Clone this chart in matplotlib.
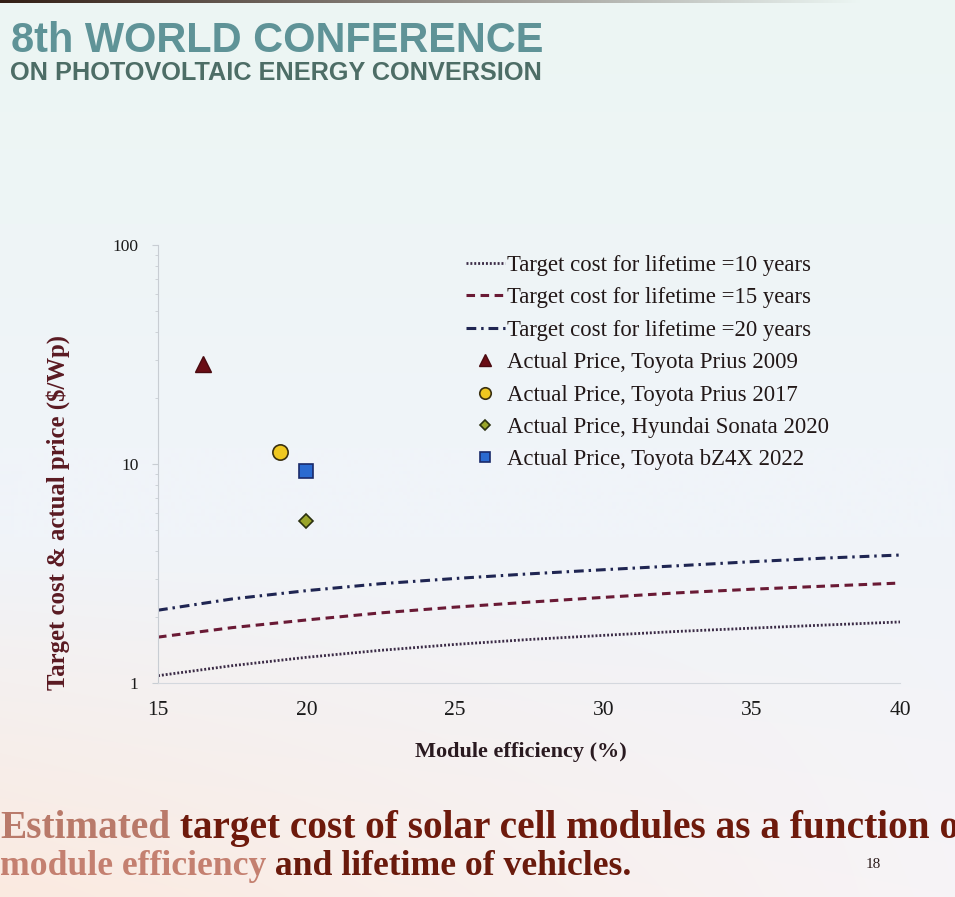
import numpy as np
import matplotlib
matplotlib.use("Agg")
import matplotlib.pyplot as plt

# module efficiency (%) for the target cost curves
eff = [15, 17.5, 20, 22.5, 25, 27.5, 30, 32.5, 35, 37.5, 40]
cost_10y = [1.08, 1.20, 1.31, 1.41, 1.50, 1.58, 1.65, 1.72, 1.78, 1.84, 1.90]
cost_15y = [1.62, 1.79, 1.94, 2.09, 2.22, 2.34, 2.46, 2.58, 2.68, 2.77, 2.86]
cost_20y = [2.15, 2.42, 2.64, 2.84, 3.00, 3.15, 3.29, 3.43, 3.58, 3.72, 3.84]

# actual prices (efficiency %, $/Wp)
prius09 = (16.5, 28.5)
prius17 = (19.1, 11.3)
sonata20 = (20.0, 5.5)
bz4x22 = (20.0, 9.3)

xticks = [15, 20, 25, 30, 35, 40]

W, H = 955, 897
fig = plt.figure(figsize=(W / 100, H / 100), dpi=100)

# slide background: light mint/blue at top, warm peach towards the bottom left
bg = fig.add_axes([0, 0, 1, 1], zorder=-10)
yy = np.linspace(0, 1, H)[:, None]
xx = np.linspace(0, 1, W)[None, :]
top = np.array([236, 246, 243]) / 255
mid = np.array([240, 244, 249]) / 255
bot_l = np.array([251, 234, 224]) / 255
bot_r = np.array([247, 244, 247]) / 255
t1 = np.clip(yy / 0.5, 0, 1)[..., None]
t2 = np.clip((yy - 0.6) / 0.4, 0, 1)[..., None]
bot = bot_l * (1 - xx[..., None]) + bot_r * xx[..., None]
img = top * (1 - t1) + mid * t1
img = img * (1 - t2) + bot * t2
fade = np.clip(xx[..., None] / 0.9, 0, 1)
img[:4, :, :] = img[:4, :, :] * fade + np.array([50, 30, 20]) / 255 * (1 - fade)
bg.imshow(img, aspect="auto", extent=[0, 1, 0, 1])
bg.axis("off")

# header
fig.text(11 / W, 1 - 52 / H, "8th WORLD CONFERENCE", family="Liberation Sans",
         weight="bold", fontsize=29.9, color="#5f9397")
fig.text(10 / W, 1 - 80 / H, "ON PHOTOVOLTAIC ENERGY CONVERSION", family="Liberation Sans",
         weight="bold", fontsize=18.2, color="#4d6d66")

ax = fig.add_axes([158 / W, 1 - 683 / H, 742 / W, 438 / H])
ax.set_facecolor("none")

ax.plot(eff, cost_10y, color="#3a2a45", lw=2.0, ls=(0, (0.7, 0.7)),
        label="Target cost for lifetime =10 years")
ax.plot(eff, cost_15y, color="#6a1a35", lw=2.2, ls=(0, (2.8, 1.8)),
        label="Target cost for lifetime =15 years")
ax.plot(eff, cost_20y, color="#1f2552", lw=2.2, ls=(0, (3.2, 1.6, 0.8, 1.6)),
        label="Target cost for lifetime =20 years")
ax.plot(*prius09, ls="none", marker="^", ms=11, mfc="#6a0d15", mec="#4a0a10",
        label="Actual Price, Toyota Prius 2009")
ax.plot(*prius17, ls="none", marker="o", ms=11, mfc="#f0c820", mec="#3a3010", mew=1.2,
        label="Actual Price, Toyota Prius 2017")
ax.plot(*sonata20, ls="none", marker="D", ms=7, mfc="#9aa52a", mec="#2a3010", mew=1.2,
        label="Actual Price, Hyundai Sonata 2020")
ax.plot(*bz4x22, ls="none", marker="s", ms=10, mfc="#2a6ad0", mec="#1a2a6a", mew=1.2,
        label="Actual Price, Toyota bZ4X 2022")

ax.set_yscale("log")
ax.set_ylim(1, 100)
ax.set_xlim(15, 40)
ax.set_xticks(xticks)
ax.set_yticks([1, 10, 100])
ax.set_yticklabels(["1", "10", "100"])
ax.tick_params(axis="x", length=0, pad=13, labelsize=15.5, labelcolor="#1a1a1a")
ax.tick_params(axis="y", which="major", length=4, color="#c8cdd3", pad=10,
               labelsize=12.5, labelcolor="#1a1a1a")
ax.tick_params(axis="y", which="minor", length=2.5, color="#c8cdd3")
for lab in ax.get_xticklabels() + ax.get_yticklabels():
    lab.set_family("Liberation Serif")
for s in ["top", "right"]:
    ax.spines[s].set_visible(False)
ax.spines["left"].set_color("#c8cdd3")
ax.spines["bottom"].set_color("#d4d8de")

ax.set_xlabel("Module efficiency (%)", family="Liberation Serif", weight="bold",
              fontsize=16, color="#2a1a20")
ax.xaxis.set_label_coords(0.489, -0.135)
ax.set_ylabel("Target cost & actual price ($/Wp)", family="Liberation Serif", weight="bold",
              fontsize=17.8, color="#5a1a22")
ax.yaxis.set_label_coords(-0.119, 0.39)

leg = ax.legend(loc="upper left", bbox_to_anchor=(466 / W, 1 - 255 / H),
                bbox_transform=fig.transFigure, frameon=False, borderpad=0,
                borderaxespad=0, handlelength=1.7, handletextpad=0.1,
                labelspacing=0.5, markerscale=0.75, numpoints=1,
                prop={"family": "Liberation Serif", "size": 16.4})
for t in leg.get_texts():
    t.set_color("#221818")

# caption
c1 = fig.text(0, 1 - 838 / H, "Estimated", family="Liberation Serif", weight="bold",
              fontsize=28.3, color="#b97a6a")
ax.annotate(" target cost of solar cell modules as a function of", xy=(1, 0),
            xycoords=c1, va="bottom", ha="left", family="Liberation Serif",
            weight="bold", fontsize=28.3, color="#6e1a0c", annotation_clip=False)
c2 = fig.text(0, 1 - 875 / H, "module efficiency", family="Liberation Serif", weight="bold",
              fontsize=25.7, color="#c48070")
ax.annotate(" and lifetime of vehicles.", xy=(1, 0), xycoords=c2, va="bottom",
            ha="left", family="Liberation Serif", weight="bold", fontsize=25.7,
            color="#6a1a0c", annotation_clip=False)
fig.text(866 / W, 1 - 868 / H, "18", family="Liberation Serif", fontsize=11,
         color="#2a1a1a")

fig.savefig("out.png", dpi=100)
